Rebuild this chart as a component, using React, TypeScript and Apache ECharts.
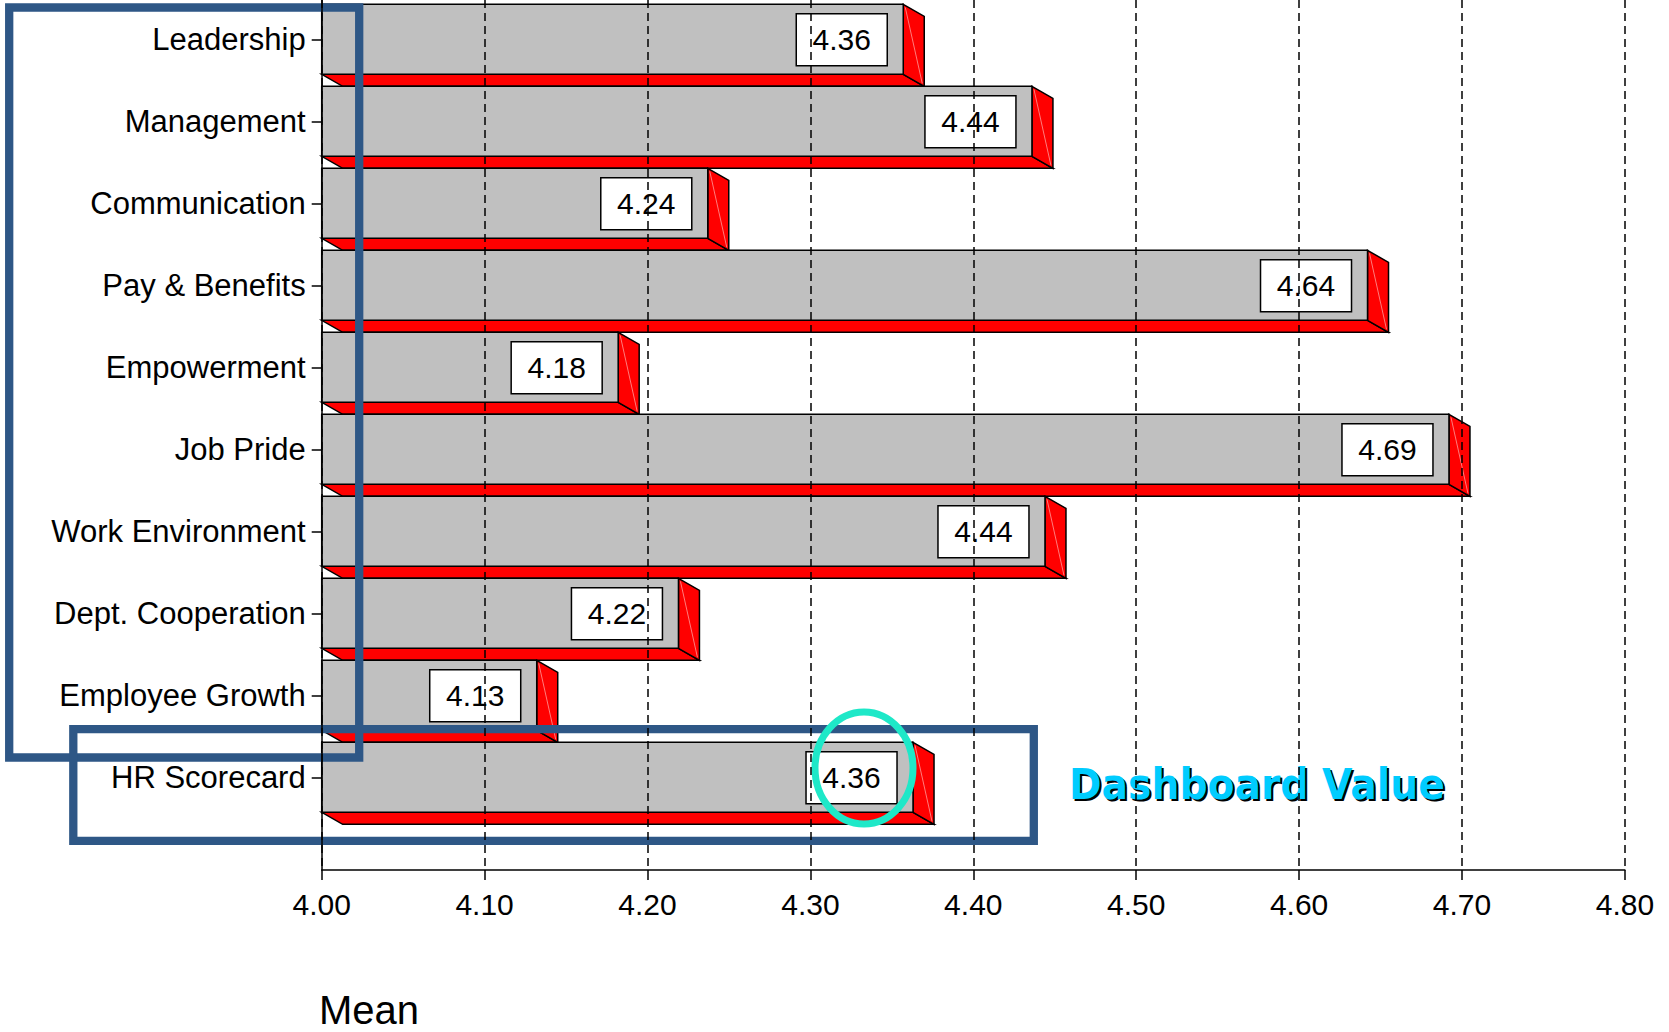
import React, { useEffect, useRef } from "react";
import * as echarts from "echarts";

const categories = [
  "Leadership",
  "Management",
  "Communication",
  "Pay & Benefits",
  "Empowerment",
  "Job Pride",
  "Work Environment",
  "Dept. Cooperation",
  "Employee Growth",
  "HR Scorecard",
];
const meanValues = [4.357, 4.436, 4.237, 4.642, 4.182, 4.692, 4.444, 4.219, 4.132, 4.363];
const X_MIN = 4.0;
const X_MAX = 4.8;
const X_STEP = 0.1;
const axisTitle = "Mean";
const calloutText = "Dashboard Value";

const FONT = "Liberation Sans, Arial, sans-serif";

export default function App() {
  const ref = useRef<HTMLDivElement>(null);

  useEffect(() => {
    if (!ref.current) return;
    const chart = echarts.init(ref.current, null, { renderer: "svg" });
    const idxs = categories.map((_, i) => i);
    const data = meanValues.map((v, i) => [v, i]);

    const option: any = {
      animation: false,
      backgroundColor: "#ffffff",
      grid: { left: 321.7, right: 44.1, top: 0, bottom: 162, containLabel: false },
      xAxis: {
        type: "value",
        min: X_MIN,
        max: X_MAX,
        interval: X_STEP,
        z: 10,
        axisLine: { show: true, onZero: false, lineStyle: { color: "#000", width: 1.5 } },
        axisTick: { show: true, length: 10, lineStyle: { color: "#000", width: 1.5 } },
        axisLabel: {
          show: true,
          margin: 19,
          fontSize: 30,
          color: "#000",
          fontFamily: FONT,
          formatter: (v: number) => v.toFixed(2),
        },
        splitLine: {
          show: true,
          showMinLine: true,
          showMaxLine: true,
          lineStyle: { color: "#000", width: 1.5, type: [8, 5] },
        },
      },
      yAxis: {
        type: "value",
        inverse: true,
        min: -0.48,
        max: 10.13,
        z: 10,
        axisLine: { show: true, onZero: false, lineStyle: { color: "#000", width: 1.5 } },
        axisTick: { show: true, length: 10, customValues: idxs, lineStyle: { color: "#000", width: 1.5 } },
        axisLabel: {
          show: true,
          customValues: idxs,
          margin: 16,
          fontSize: 31,
          color: "#000",
          fontFamily: FONT,
          formatter: (v: number) => categories[Math.round(v)] ?? "",
        },
        splitLine: { show: false },
      },
      series: [
        {
          type: "custom",
          z: 2,
          encode: { x: 0, y: 1 },
          data,
          renderItem: (params: any, api: any) => {
            const v = api.value(0);
            const idx = api.value(1);
            const end = api.coord([v, idx]);
            const start = api.coord([X_MIN, idx]);
            const unit = api.size([0, 1])[1];
            const half = (unit * 35) / 82;
            const dy = (unit * 12) / 82;
            const dx = (unit * 21) / 82;
            const x0 = start[0];
            const x1 = end[0];
            const c = end[1];
            const top = c - half;
            const bot = c + half;
            const st = { stroke: "#000", lineWidth: 1.5, lineJoin: "miter" };
            const boxW = 91;
            const boxH = 52;
            const boxR = x1 - 16;
            return {
              type: "group",
              children: [
                {
                  type: "polygon",
                  shape: { points: [[x0, bot], [x1, bot], [x1 + dx, bot + dy], [x0 + dx, bot + dy]] },
                  style: { fill: "#FF0000", ...st },
                },
                {
                  type: "polygon",
                  shape: { points: [[x1, top], [x1 + dx, top + dy], [x1 + dx, bot + dy], [x1, bot]] },
                  style: { fill: "#FF0000", ...st },
                },
                {
                  type: "line",
                  shape: { x1: x1 + 2, y1: top + 3, x2: x1 + dx - 2, y2: bot + dy - 3 },
                  style: { stroke: "#FF9A9A", lineWidth: 0.8 },
                },
                {
                  type: "rect",
                  shape: { x: x0, y: top, width: x1 - x0, height: bot - top },
                  style: { fill: "#C0C0C0", ...st },
                },
                {
                  type: "rect",
                  shape: { x: boxR - boxW, y: c - 25.5, width: boxW, height: boxH },
                  style: { fill: "#FFFFFF", ...st },
                },
                {
                  type: "text",
                  style: {
                    text: Number(v).toFixed(2),
                    x: boxR - boxW / 2,
                    y: c + 0.5,
                    align: "center",
                    verticalAlign: "middle",
                    fontSize: 30,
                    fontFamily: FONT,
                    fill: "#000",
                  },
                },
              ],
            };
          },
        },
      ],
      graphic: [
        {
          type: "rect",
          z: 5,
          shape: { x: 9.2, y: 7.5, width: 350, height: 750 },
          style: { fill: "none", stroke: "#2E5786", lineWidth: 8.3 },
        },
        {
          type: "rect",
          z: 5,
          shape: { x: 73.3, y: 729.2, width: 960.5, height: 111.6 },
          style: { fill: "none", stroke: "#2E5786", lineWidth: 8.3 },
        },
        {
          type: "ellipse",
          z: 6,
          shape: { cx: 864, cy: 768, rx: 49, ry: 56 },
          style: { fill: "none", stroke: "#1EE8C8", lineWidth: 7 },
        },
        {
          type: "text",
          z: 6,
          x: 1071,
          y: 787,
          scaleX: 0.935,
          style: {
            text: calloutText,
            x: 0,
            y: 0,
            align: "left",
            verticalAlign: "middle",
            fontSize: 42,
            fontWeight: "bold",
            fontFamily: "DejaVu Sans, sans-serif",
            fill: "#000000",
          },
        },
        {
          type: "text",
          z: 7,
          x: 1069,
          y: 785,
          scaleX: 0.935,
          style: {
            text: calloutText,
            x: 0,
            y: 0,
            align: "left",
            verticalAlign: "middle",
            fontSize: 42,
            fontWeight: "bold",
            fontFamily: "DejaVu Sans, sans-serif",
            fill: "#00CCFF",
          },
        },
        {
          type: "text",
          z: 6,
          x: 319,
          y: 1010,
          style: {
            text: axisTitle,
            align: "left",
            verticalAlign: "middle",
            fontSize: 40,
            lineHeight: 40,
            fontFamily: FONT,
            fill: "#000",
          },
        },
      ],
    };
    chart.setOption(option);
    return () => chart.dispose();
  }, []);

  return (
    <div
      ref={ref}
      style={{ position: "fixed", left: 0, top: 0, width: 1669, height: 1032, background: "#fff" }}
    />
  );
}
